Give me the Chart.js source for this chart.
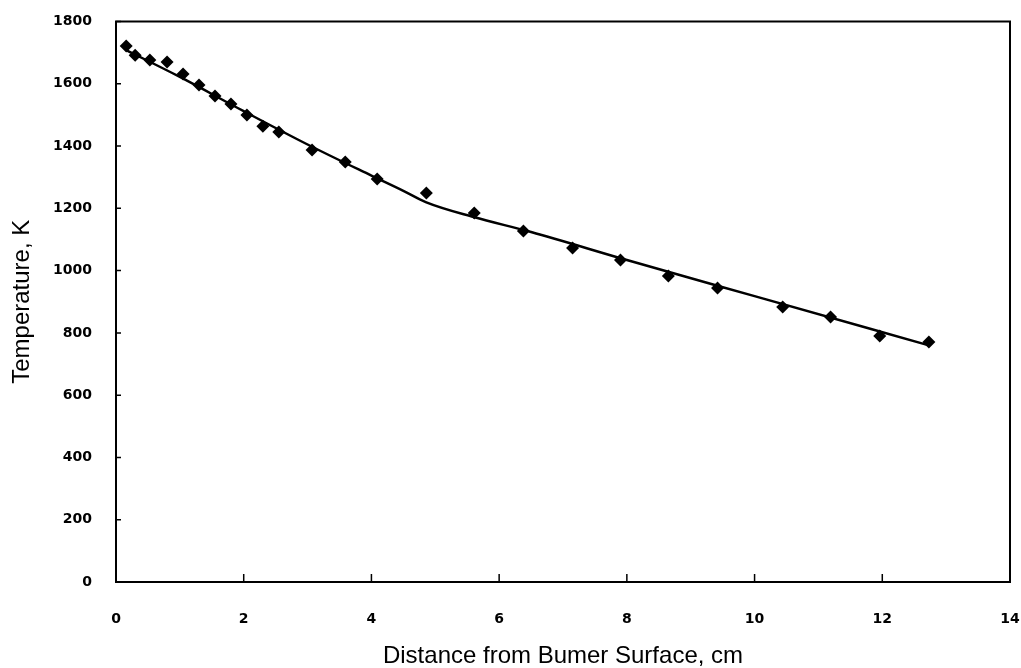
<!DOCTYPE html>
<html>
<head>
<meta charset="utf-8">
<script src="https://cdn.jsdelivr.net/npm/chart.js@4/dist/chart.umd.min.js"></script>
<style>
  html, body { margin: 0; padding: 0; background: #fff; }
  #wrap { width: 1021px; height: 668px; position: relative; }
</style>
</head>
<body>
<div id="wrap"><canvas id="tempChart"></canvas></div>
<script>
// measured points (distance cm, temperature K)
const distMeasured = [0.16, 0.30, 0.53, 0.80, 1.05, 1.30, 1.55, 1.80, 2.05, 2.30, 2.55,
  3.07, 3.59, 4.09, 4.86, 5.61, 6.38, 7.15, 7.90, 8.65, 9.42, 10.44, 11.19, 11.96, 12.73];
const tempMeasured = [1721, 1692, 1676, 1670, 1631, 1596, 1561, 1535, 1500, 1464, 1445,
  1387, 1349, 1294, 1249, 1185, 1127, 1073, 1034, 983, 944, 883, 851, 790, 771];

// fitted curve
const distFit = [0.16, 1.0, 2.0, 3.0, 4.0, 4.5, 4.85, 5.6, 6.5, 8.0, 10.0, 12.73];
const tempFit = [1708, 1622, 1512, 1405, 1305, 1256, 1220, 1172, 1124, 1034, 918, 760];

const xTicks = [0, 2, 4, 6, 8, 10, 12, 14];
const yTicks = [0, 200, 400, 600, 800, 1000, 1200, 1400, 1600, 1800];

const toXY = (xs, ys) => xs.map((x, i) => ({ x, y: ys[i] }));

// frame + inward tick marks
const framePlugin = {
  id: 'frame',
  afterDraw(chart) {
    const { ctx, chartArea: a, scales } = chart;
    ctx.save();
    ctx.strokeStyle = '#000';
    ctx.lineWidth = 2;
    ctx.strokeRect(a.left, a.top, a.right - a.left, a.bottom - a.top);
    ctx.lineWidth = 1.5;
    ctx.beginPath();
    xTicks.forEach(v => {
      const px = scales.x.getPixelForValue(v);
      ctx.moveTo(px, a.bottom);
      ctx.lineTo(px, a.bottom - 8);
    });
    yTicks.forEach(v => {
      const py = scales.y.getPixelForValue(v);
      ctx.moveTo(a.left, py);
      ctx.lineTo(a.left + 5, py);
    });
    ctx.stroke();
    ctx.restore();
  }
};

const tickFont = { family: '"DejaVu Sans", sans-serif', size: 14, weight: 'bold' };
const titleFont = { family: '"Liberation Sans", Arial, sans-serif', size: 24 };

const noPad = s => { s.paddingLeft = 0; s.paddingRight = 0; s.paddingTop = 0; s.paddingBottom = 0; };

new Chart(document.getElementById('tempChart'), {
  type: 'scatter',
  data: {
    datasets: [
      {
        label: 'Measured',
        data: toXY(distMeasured, tempMeasured),
        pointStyle: 'rectRot',
        pointRadius: 6.5,
        backgroundColor: '#000',
        borderColor: '#000',
        borderWidth: 0,
        showLine: false
      },
      {
        label: 'Fit',
        data: toXY(distFit, tempFit),
        showLine: true,
        pointRadius: 0,
        borderColor: '#000',
        borderWidth: 2.5,
        cubicInterpolationMode: 'monotone',
        fill: false
      }
    ]
  },
  plugins: [framePlugin],
  options: {
    responsive: true,
    maintainAspectRatio: false,
    animation: false,
    layout: { padding: { left: 0, right: 11, top: 21.5, bottom: 0 } },
    plugins: { legend: { display: false }, tooltip: { enabled: false } },
    scales: {
      x: {
        type: 'linear',
        min: 0, max: 14,
        afterBuildTicks: s => { s.ticks = xTicks.map(v => ({ value: v })); },
        afterFit: s => { s.height = 86; noPad(s); },
        grid: { display: false },
        border: { display: false },
        ticks: { color: '#000', font: tickFont, padding: 21, maxRotation: 0, callback: v => String(v) },
        title: { display: true, text: 'Distance from Bumer Surface, cm', color: '#000', font: titleFont, padding: { top: 0, bottom: -3 } }
      },
      y: {
        type: 'linear',
        min: 0, max: 1800,
        afterBuildTicks: s => { s.ticks = yTicks.map(v => ({ value: v })); },
        afterFit: s => { s.width = 116; noPad(s); },
        grid: { display: false },
        border: { display: false },
        ticks: { color: '#000', font: tickFont, padding: 16, callback: v => String(v) },
        title: { display: true, text: 'Temperature, K', color: '#000', font: titleFont, padding: { top: 8, bottom: 0 } }
      }
    }
  }
});
</script>
</body>
</html>
